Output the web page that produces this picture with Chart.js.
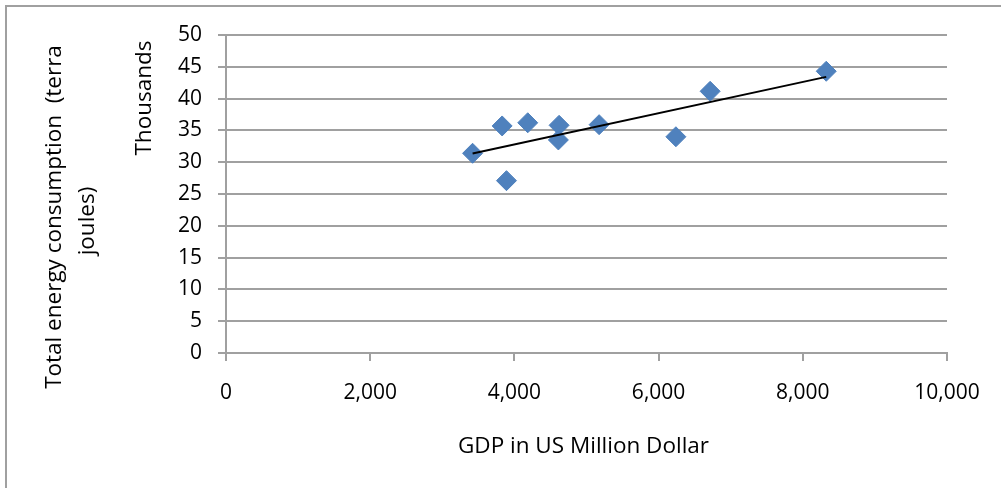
<!DOCTYPE html>
<html>
<head>
<meta charset="utf-8">
<script src="https://cdn.jsdelivr.net/npm/chart.js@4.4.1/dist/chart.umd.min.js"></script>
<style>
  html, body { margin: 0; padding: 0; background: #fff; overflow: hidden; }
  #wrap { position: relative; width: 1001px; height: 488px; }
  #frame { position: absolute; left: 5px; top: 5px; width: 1100px; height: 600px; border: 2px solid #a0a0a0; }
  canvas { position: absolute; left: 0; top: 0; }
</style>
</head>
<body>
<div id="wrap">
  <div id="frame"></div>
  <canvas id="chart" width="1001" height="488"></canvas>
</div>
<script>
// GDP (US million dollar) vs total energy consumption (terra joules)
const gdp = [3420, 3830, 3890, 4185, 4620, 4610, 5175, 6240, 6715, 8325];
const energy = [31400, 35700, 27100, 36200, 35800, 33500, 35900, 34000, 41150, 44300];
const yTitle = ['Total energy consumption  (terra', 'joules)'];
const yUnit = 'Thousands';
const xTitle = 'GDP in US Million Dollar';

const FONT = '"Open Sans", Lato, sans-serif';

const points = gdp.map((g, i) => ({ x: g, y: energy[i] }));

// linear trendline (least squares), drawn across the data range
const n = gdp.length;
const mx = gdp.reduce((a, b) => a + b, 0) / n;
const my = energy.reduce((a, b) => a + b, 0) / n;
let sxy = 0, sxx = 0;
for (let i = 0; i < n; i++) {
  sxy += (gdp[i] - mx) * (energy[i] - my);
  sxx += (gdp[i] - mx) * (gdp[i] - mx);
}
const slope = sxy / sxx;
const icpt = my - slope * mx;
const xMin = Math.min(...gdp), xMax = Math.max(...gdp);
const trend = [
  { x: xMin, y: icpt + slope * xMin },
  { x: xMax, y: icpt + slope * xMax },
];

// axis titles, placed like the original sheet
const axisTitles = {
  id: 'axisTitles',
  afterDraw(chart) {
    const ctx = chart.ctx;
    ctx.save();
    ctx.fillStyle = '#000';
    ctx.font = '22.5px ' + FONT;
    ctx.textAlign = 'center';
    ctx.textBaseline = 'alphabetic';
    const put = (txt, x, y) => {
      ctx.save();
      ctx.translate(x, y);
      ctx.rotate(-Math.PI / 2);
      ctx.fillText(txt, 0, 0);
      ctx.restore();
    };
    put(yTitle[0], 61, 217);
    put(yTitle[1], 94, 221);
    put(yUnit, 151, 98);
    const xa = chart.scales.x;
    ctx.fillText(xTitle, (xa.left + xa.right) / 2 - 3, 453);
    ctx.restore();
  }
};

new Chart(document.getElementById('chart'), {
  type: 'scatter',
  data: {
    datasets: [
      {
        label: 'Energy',
        data: points,
        pointStyle: 'rectRot',
        pointRadius: 10,
        pointHoverRadius: 10,
        backgroundColor: '#4f81bd',
        borderColor: '#4f81bd',
        borderWidth: 1,
        order: 2,
      },
      {
        label: 'Trend',
        data: trend,
        type: 'line',
        showLine: true,
        borderColor: '#000',
        borderWidth: 2,
        pointRadius: 0,
        fill: false,
        order: 1,
      },
    ],
  },
  options: {
    responsive: false,
    animation: false,
    layout: { padding: { left: 0, right: 54, top: 35, bottom: 0 } },
    plugins: { legend: { display: false }, tooltip: { enabled: false } },
    scales: {
      x: {
        type: 'linear',
        min: 0,
        max: 10000,
        afterFit: (s) => { s.height = 135; },
        ticks: {
          stepSize: 2000,
          color: '#000',
          font: { family: FONT, size: 21 },
          padding: 19,
          maxRotation: 0,
          callback: (v) => v.toLocaleString('en-US'),
        },
        grid: { drawOnChartArea: false, drawTicks: true, tickLength: 8, color: '#a0a0a0', lineWidth: 2 },
        border: { color: '#a0a0a0', width: 2 },
      },
      y: {
        min: 0,
        max: 50000,
        afterFit: (s) => { s.width = 226; },
        ticks: {
          stepSize: 5000,
          color: '#000',
          font: { family: FONT, size: 21 },
          padding: 16,
          callback: (v) => v / 1000,
        },
        grid: { color: '#a0a0a0', lineWidth: 2, tickLength: 8 },
        border: { color: '#a0a0a0', width: 2 },
      },
    },
  },
  plugins: [axisTitles],
});
</script>
</body>
</html>
